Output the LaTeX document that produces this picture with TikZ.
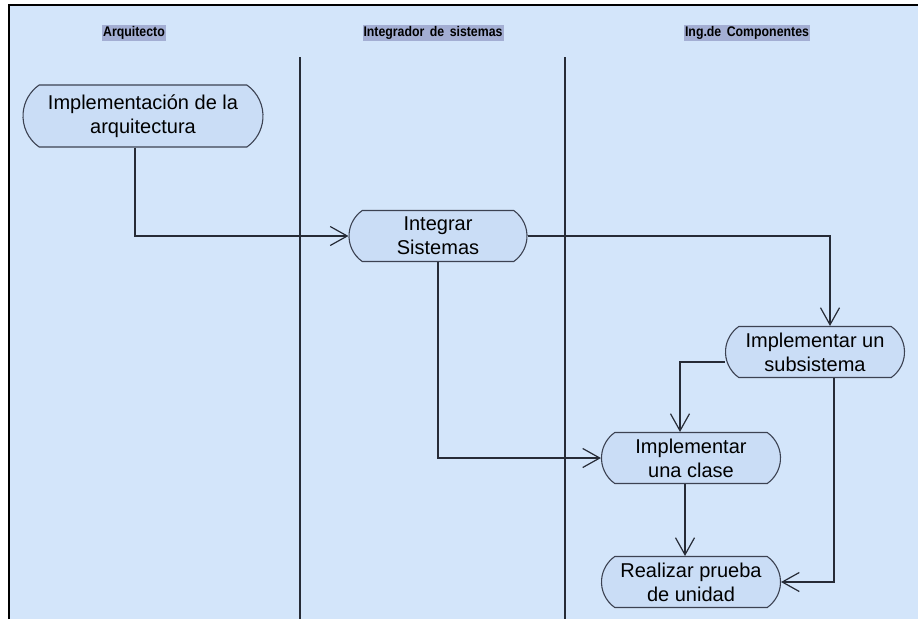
\documentclass[tikz,border=0pt]{standalone}
\usepackage{fontspec}
\setmainfont{Liberation Sans}
\newfontfamily\hdrfont[FakeStretch=0.88,WordSpace=1.6]{Liberation Sans}
\usetikzlibrary{shapes.misc,arrows.meta,calc}
\definecolor{bgblue}{HTML}{D3E5FA}
\definecolor{nodefill}{HTML}{CADDF6}
\definecolor{nodeborder}{HTML}{3C4252}
\definecolor{hdrfill}{HTML}{A3AED3}
\definecolor{linecol}{HTML}{262B36}
\tikzset{
  act/.style={rounded rectangle, rounded rectangle arc length=110, draw=nodeborder, fill=nodefill,
    line width=1.1pt, inner sep=0pt, align=center, font=\fontsize{20}{24}\selectfont, text=black},
  lanehdr/.style={fill=hdrfill, inner xsep=1pt, inner ysep=1.5pt, font=\hdrfont\bfseries\fontsize{14}{15}\selectfont},
  flow/.style={draw=linecol, line width=1.2pt, -{Straight Barb[length=17pt,width=19pt,line width=1.2pt]}},
  lane/.style={draw=linecol, line width=1.2pt},
  frame/.style={draw=black, line width=2.2pt}
}
\begin{document}
\begin{tikzpicture}[x=1pt,y=-1pt]
\useasboundingbox (0,0) rectangle (918,619);
\fill[white] (0,0) rectangle (918,619);
\fill[bgblue] (9,5) rectangle (918,619);
\draw[frame] (9,619) -- (9,5) -- (918,5);
% lanes
\draw[lane] (300,57) -- (300,619);
\draw[lane] (565,57) -- (565,619);
% headers
\node[lanehdr] (h1) at (134,33) {Arquitecto};
\node[lanehdr] (h2) at (433,33) {Integrador de sistemas};
\node[lanehdr] (h3) at (747,33) {Ing.de Componentes};
% activities
\node[act, minimum width=240pt, minimum height=62pt] (n1) at (143,116) {Implementación de la\\arquitectura};
\node[act, minimum width=178pt, minimum height=51pt] (n2) at (438,236) {Integrar\\Sistemas};
\node[act, minimum width=179pt, minimum height=51pt] (n3) at (815,352) {Implementar un\\subsistema};
\node[act, minimum width=179pt, minimum height=51pt] (n4) at (691,458) {Implementar\\una clase};
\node[act, minimum width=179pt, minimum height=51pt] (n5) at (691,582) {Realizar prueba\\de unidad};
% flows
\draw[flow] ([xshift=-8pt]n1.south) |- (n2.west);
\draw[flow] (n2.east) -| ([xshift=15pt]n3.north);
\draw[flow] (n2.south) |- (n4.west);
\draw[flow] ([yshift=-10pt]n3.west) -| ([xshift=-11pt]n4.north);
\draw[flow] ([xshift=19pt]n3.south) |- (n5.east);
\draw[flow] ([xshift=-6pt]n4.south) -- ([xshift=-6pt]n5.north);
\end{tikzpicture}
\end{document}
